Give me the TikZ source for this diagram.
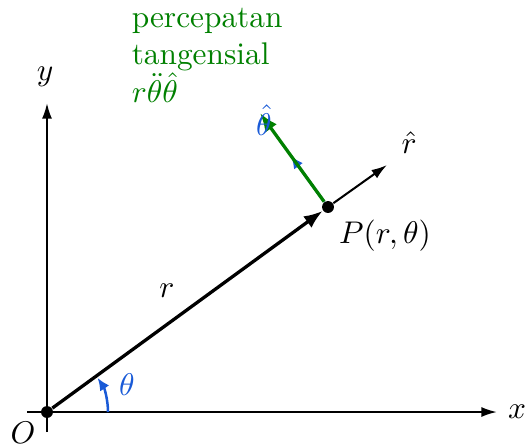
\documentclass[tikz,border=0pt]{standalone}
\usepackage{amsmath}
\usetikzlibrary{arrows.meta, positioning}
\definecolor{accgreen}{RGB}{0,128,0}
\definecolor{angblue}{RGB}{25,90,215}

\begin{document}
\begin{tikzpicture}[
    x=0.319pt, y=-0.319pt,
    axis/.style={-{Latex[length=5pt,width=3.2pt]}, line width=0.65pt},
    vec/.style={-{Latex[length=6pt,width=4.5pt]}, line width=1.05pt},
    dot/.style={circle, fill=black, inner sep=0pt, minimum size=3.8pt},
    lbl/.style={inner sep=1pt}
]
\useasboundingbox (0,0) rectangle (528,447);

% points and axes
\node[dot] (O) at (47,412) {};
\node[dot] (P) at (328,207) {};
\coordinate (xstart) at (27,412);
\coordinate (xend) at (497,412);
\coordinate (ystart) at (47,432);
\coordinate (yend) at (47,103);
\coordinate (rhat) at (387,165);
\coordinate (thblue) at (291,156);
\coordinate (thgreen) at (260,113);

\draw[axis] (xstart) -- (xend);
\draw[axis] (ystart) -- (yend);
\node[lbl] (xlbl) at (517,412) {$x$};
\node[lbl] (ylbl) at (45,77) {$y$};
\node[lbl] (Olbl) at (23,433) {$O$};

% position vector
\draw[vec] (O) -- (P);
\draw[axis] (P) -- (rhat);
\node[lbl] (rlbl) at (167,291) {$r$};
\node[lbl] (Plbl) at (385,236) {$P(r,\theta)$};
\node[lbl] (rhatlbl) at (409,143) {$\hat{r}$};

% tangential part
\draw[-{Latex[length=4pt,width=3.5pt]}, line width=0.8pt, angblue] (P) -- (thblue);
\draw[vec, accgreen] (P) -- (thgreen);
\node[lbl, text=angblue] (thlbl) at (264,120) {$\hat{\theta}$};
\node[lbl, text=accgreen, align=left, anchor=north west] (acc) at (128,4)
    {percepatan\\tangensial\\$r\ddot{\theta}\hat{\theta}$};

% angle
\draw[-{Latex[length=4pt,width=3.5pt]}, line width=0.8pt, angblue]
    (108,412) arc[start angle=0, end angle=-34, radius=61];
\node[lbl, text=angblue] (anglbl) at (127,385) {$\theta$};
\end{tikzpicture}
\end{document}
